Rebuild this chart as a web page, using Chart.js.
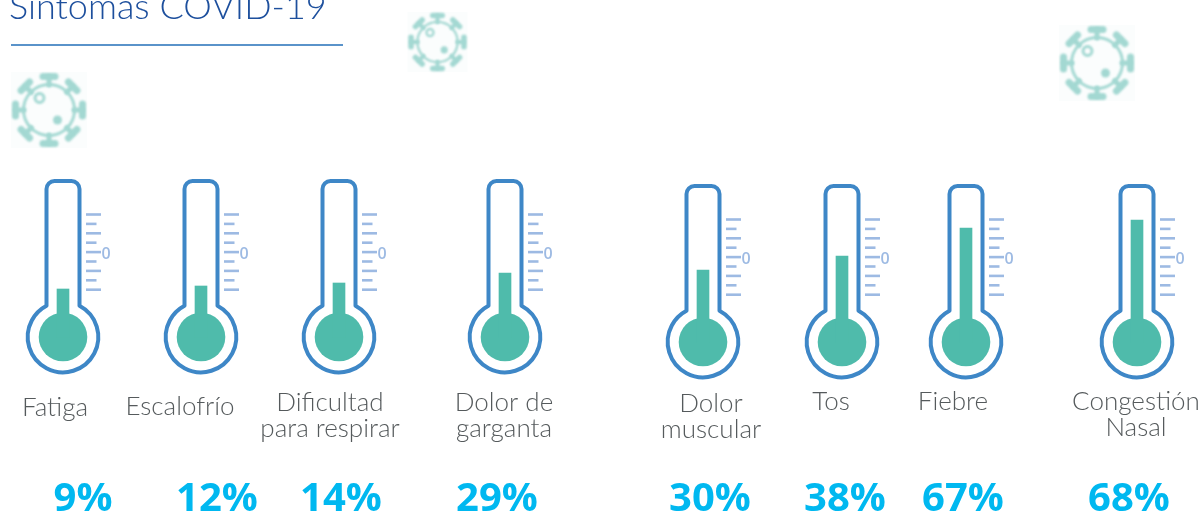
<!DOCTYPE html>
<html>
<head>
<meta charset="utf-8">
<script src="https://cdn.jsdelivr.net/npm/chart.js@4/dist/chart.umd.min.js"></script>
<style>
  html, body { margin: 0; padding: 0; background: #fff; overflow: hidden; }
  canvas { display: block; }
</style>
</head>
<body>
<canvas id="chart" width="1204" height="513"></canvas>
<script>
'use strict';

// values
const symptoms = ['Fatiga', 'Escalofrío', 'Dificultad para respirar', 'Dolor de garganta',
  'Dolor muscular', 'Tos', 'Fiebre', 'Congestión Nasal'];
const percents = [9, 12, 14, 29, 30, 38, 67, 68];
// mercury height above the bulb centre, the drawn level does not follow the printed percent
const mercuryLevels = [48, 51, 54, 64, 72, 86, 114, 122];

// layout
const SLOT_X = [63, 201, 339, 505, 703, 842, 966, 1137];
const LEFT_GROUP = 4;            // first four thermometers sit 5px higher
const BULB_Y = [337, 342];
const LABELS = [
  { lines: ['Fatiga'], x: 55, y: 416 },
  { lines: ['Escalofrío'], x: 180, y: 415 },
  { lines: ['Dificultad', 'para respirar'], x: 330, y: 411 },
  { lines: ['Dolor de', 'garganta'], x: 504, y: 411 },
  { lines: ['Dolor', 'muscular'], x: 711, y: 412 },
  { lines: ['Tos'], x: 831, y: 410 },
  { lines: ['Fiebre'], x: 953, y: 410 },
  { lines: ['Congestión', 'Nasal'], x: 1136, y: 410 }
];
const PERCENT_X = [83, 217, 341, 497, 710, 845, 963, 1129];
const VIRUSES = [[49, 110, 38], [437.5, 42, 30], [1097, 63, 38]];

const points = (from, to) => SLOT_X.slice(from, to).map((x, i) => ({ x, y: mercuryLevels[from + i] }));

function drawThermometer(ctx, cx, by) {
  const hw = 16.5, r = 35.3, top = by - 156;
  const dy = Math.sqrt(r * r - hw * hw);
  // bulb fill
  ctx.fillStyle = '#4fbbab';
  ctx.beginPath();
  ctx.arc(cx, by, 24.3, 0, Math.PI * 2);
  ctx.fill();
  // glass outline
  ctx.strokeStyle = '#3e87c7';
  ctx.lineWidth = 4;
  ctx.lineJoin = 'round';
  ctx.beginPath();
  ctx.moveTo(cx + hw, by - dy);
  ctx.arc(cx, by, r, Math.atan2(-dy, hw), Math.atan2(-dy, -hw), false);
  ctx.arcTo(cx - hw, top, cx, top, 8);
  ctx.arcTo(cx + hw, top, cx + hw, by - dy, 8);
  ctx.closePath();
  ctx.stroke();
  // scale marks
  ctx.strokeStyle = '#9dbae3';
  ctx.lineWidth = 2.6;
  for (let i = 0; i < 9; i++) {
    const y = by - 122.5 + i * 9.4;
    ctx.beginPath();
    ctx.moveTo(cx + 23, y);
    ctx.lineTo(cx + (i % 2 ? 33.5 : 38), y);
    ctx.stroke();
  }
  ctx.fillStyle = '#9dbae3';
  ctx.font = '600 16px "Open Sans"';
  ctx.textAlign = 'left';
  ctx.textBaseline = 'alphabetic';
  ctx.fillText('0', cx + 38.5, by - 78.5);
}

function drawVirus(ctx, cx, cy, size) {
  const k = size / 38;
  ctx.save();
  ctx.translate(cx, cy);
  ctx.scale(k, k);
  ctx.fillStyle = '#fbfdfd';
  ctx.fillRect(-38, -38, 76, 76);
  ctx.filter = 'blur(0.9px)';
  ctx.strokeStyle = '#a3d8d2';
  ctx.lineCap = 'round';
  ctx.lineWidth = 3;
  ctx.beginPath();
  ctx.arc(0, 0, 25.5, 0, Math.PI * 2);
  ctx.stroke();
  for (let i = 0; i < 8; i++) {
    ctx.save();
    ctx.rotate(i * Math.PI / 4);
    ctx.lineWidth = 5;
    ctx.beginPath();
    ctx.moveTo(0, -25);
    ctx.lineTo(0, -33);
    ctx.stroke();
    ctx.lineWidth = 7;
    ctx.beginPath();
    ctx.moveTo(-6, -33.5);
    ctx.lineTo(6, -33.5);
    ctx.stroke();
    ctx.restore();
  }
  ctx.lineWidth = 3;
  ctx.beginPath();
  ctx.arc(-9.5, -12, 4.5, 0, Math.PI * 2);
  ctx.stroke();
  ctx.fillStyle = '#a3d8d2';
  ctx.beginPath();
  ctx.arc(8.5, 10, 4.5, 0, Math.PI * 2);
  ctx.fill();
  ctx.restore();
}

const thermometerArt = {
  id: 'thermometerArt',
  beforeDatasetsDraw(chart) {
    const { ctx, scales } = chart;
    ctx.save();
    SLOT_X.forEach((x, i) => {
      const yScale = i < LEFT_GROUP ? scales.y : scales.y2;
      drawThermometer(ctx, scales.x.getPixelForValue(x), yScale.getPixelForValue(0));
    });
    ctx.restore();
  },
  afterDraw(chart) {
    const { ctx } = chart;
    ctx.save();
    VIRUSES.forEach(v => drawVirus(ctx, v[0], v[1], v[2]));

    // title and rule
    ctx.textAlign = 'left';
    ctx.textBaseline = 'alphabetic';
    ctx.fillStyle = '#1d4f9d';
    ctx.font = '300 36px Lato';
    ctx.fillText('Síntomas COVID-19', 9, 19);
    ctx.strokeStyle = '#5a93ca';
    ctx.lineWidth = 2;
    ctx.beginPath();
    ctx.moveTo(11, 45);
    ctx.lineTo(343, 45);
    ctx.stroke();

    // symptom names
    ctx.textAlign = 'center';
    ctx.fillStyle = '#555a5c';
    ctx.font = '300 26px Lato';
    LABELS.forEach(l => l.lines.forEach((line, i) => ctx.fillText(line, l.x, l.y + i * 26)));

    // percentages
    ctx.fillStyle = '#00b8f0';
    ctx.font = 'bold 40px "Open Sans"';
    percents.forEach((p, i) => ctx.fillText(p + '%', PERCENT_X[i], 511));
    ctx.restore();
  }
};

const barStyle = {
  backgroundColor: '#4fbbab',
  borderWidth: 0,
  barThickness: 12,
  grouped: false
};

new Chart(document.getElementById('chart'), {
  type: 'bar',
  data: {
    datasets: [
      { label: 'Grupo 1', data: points(0, LEFT_GROUP), yAxisID: 'y', ...barStyle },
      { label: 'Grupo 2', data: points(LEFT_GROUP, symptoms.length), yAxisID: 'y2', ...barStyle }
    ]
  },
  options: {
    responsive: false,
    animation: false,
    layout: { padding: 0 },
    plugins: { legend: { display: false }, title: { display: false }, tooltip: { enabled: false } },
    scales: {
      x: { type: 'linear', min: 0, max: 1204, display: false, offset: false },
      y: { min: BULB_Y[0] - 513, max: BULB_Y[0], display: false },
      y2: { min: BULB_Y[1] - 513, max: BULB_Y[1], display: false }
    }
  },
  plugins: [thermometerArt]
});
</script>
</body>
</html>
